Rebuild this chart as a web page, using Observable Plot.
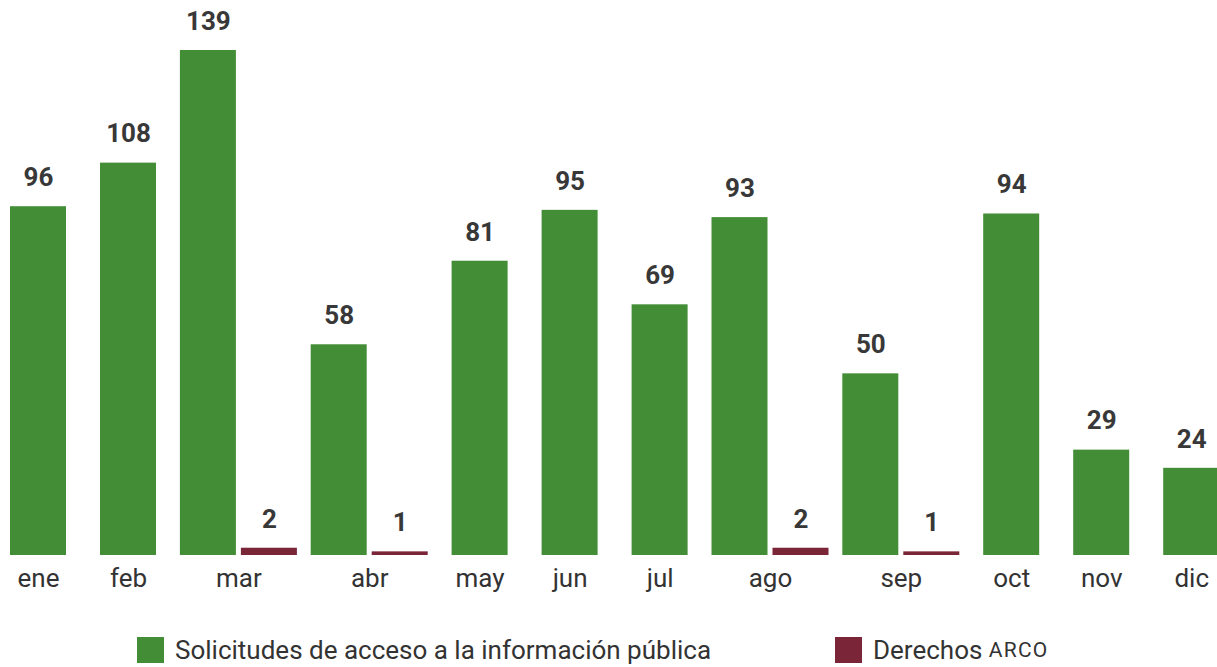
<!DOCTYPE html>
<html>
<head>
<meta charset="utf-8">
<script src="https://cdn.jsdelivr.net/npm/d3@7"></script>
<script src="https://cdn.jsdelivr.net/npm/@observablehq/plot@0.6"></script>
<style>
  html, body { margin: 0; padding: 0; background: #fff; overflow: hidden; }
  body { width: 1217px; height: 667px; font-family: Roboto, "Noto Sans", sans-serif; }
  #legend { position: relative; height: 67px; width: 1217px; font-size: 26px; color: #333; }
  .item { position: absolute; top: 35px; display: flex; align-items: center; line-height: 30px; }
  .sw { width: 27px; height: 26px; margin-right: 11px; }
  .sc { font-size: 21px; letter-spacing: 1.2px; }
</style>
</head>
<body>
<div id="chart"></div>
<div id="legend">
  <div class="item" style="left:137px"><span class="sw" style="background:#428d35"></span>Solicitudes de acceso a la información pública</div>
  <div class="item" style="left:835px"><span class="sw" style="background:#7b2538"></span>Derechos&nbsp;<span class="sc">ARCO</span></div>
</div>
<script>
const months = ["ene","feb","mar","abr","may","jun","jul","ago","sep","oct","nov","dic"];
const solicitudes = [96,108,139,58,81,95,69,93,50,94,29,24];
const arco = [0,0,2,1,0,0,0,2,1,0,0,0];
const seriesNames = ["Solicitudes de acceso a la información pública","Derechos ARCO"];
const colors = ["#428d35","#7b2538"];

// layout: variable-width month slots; zero bars are omitted
const barW = 56, innerGap = 5, slotSingle = 90, slotDouble = 130.8;
const bars = [];
const monthCenters = [];
let cursor = 0;
months.forEach((m, i) => {
  const vals = [solicitudes[i], arco[i]];
  const present = vals.map((v, k) => ({v, k})).filter(d => d.v > 0);
  const slot = present.length > 1 ? slotDouble : slotSingle;
  const center = cursor + slot / 2;
  const groupW = present.length * barW + (present.length - 1) * innerGap;
  let start = center - groupW / 2;
  present.forEach(d => {
    bars.push({month: m, series: seriesNames[d.k], value: d.v, x1: start, x2: start + barW});
    start += barW + innerGap;
  });
  monthCenters.push({month: m, x: center});
  cursor += slot;
});
const total = cursor;

const chart = Plot.plot({
  width: 1217,
  height: 600,
  marginTop: 0, marginBottom: 0, marginLeft: 0, marginRight: 0,
  style: {fontFamily: "Roboto, 'Noto Sans', sans-serif", background: "white"},
  x: {domain: [0, total], range: [-7, total - 7], axis: null},
  y: {domain: [0, 139], range: [555, 50], axis: null},
  color: {domain: seriesNames, range: colors},
  marks: [
    Plot.rect(bars, {x1: "x1", x2: "x2", y1: 0, y2: "value", fill: "series"}),
    Plot.text(bars, {x: d => (d.x1 + d.x2) / 2, y: "value", text: d => String(d.value), dy: -29, fontSize: 26, fontWeight: "bold", fill: "#383838"}),
    Plot.text(monthCenters, {x: "x", y: 0, text: "month", dy: 23, fontSize: 26, fill: "#333333"})
  ]
});
document.getElementById("chart").appendChild(chart);
</script>
</body>
</html>
